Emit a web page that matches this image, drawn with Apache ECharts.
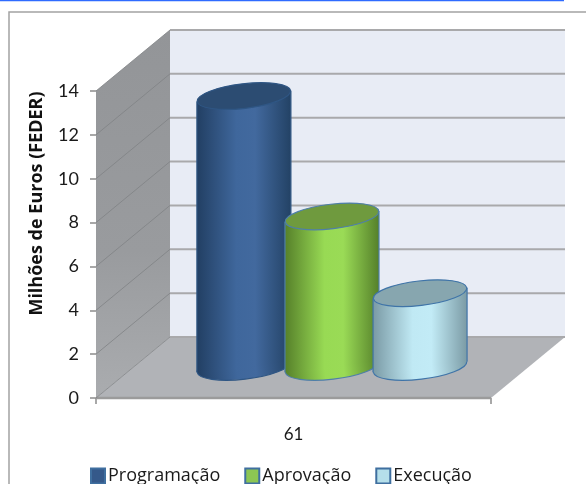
<!DOCTYPE html>
<html><head><meta charset="utf-8">
<style>html,body{margin:0;padding:0;background:#fff}#c{width:586px;height:484px}</style>
<script src="https://cdn.jsdelivr.net/npm/echarts@6/dist/echarts.min.js"></script>
</head><body><div id="c"></div>
<script>
const categories = ['61'];
const programacao = [12.35];
const aprovacao = [6.86];
const execucao = [3.36];
const yTicks = [0, 2, 4, 6, 8, 10, 12, 14];
const seriesNames = ['Programação', 'Aprovação', 'Execução'];

const FONT = 'Lato';
const FONT_WIDE = 'Open Sans';
const DX = 74, DY = -61;
const looks = [
  {side:['#223f63','#3f679c','#42699e','#234265'], top:'#2c4c72', edge:'#2f5684', key:'#35598a'},
  {side:['#56802a','#98da54','#9adb56','#55802a'], top:'#6f9a3e', edge:'#4f7fa8', key:'#8cc653'},
  {side:['#7a9aa5','#c0e9f4','#c2ebf6','#7b9ba5'], top:'#87a6af', edge:'#3f74a8', key:'#b5dfea'}
];
const grad = c => ({type:'linear',x:0,y:0,x2:1,y2:0,colorStops:[
  {offset:0,color:c[0]},{offset:0.42,color:c[1]},{offset:0.62,color:c[2]},{offset:1,color:c[3]}]});

function cylinder(i){
  return function(params, api){
    const p = api.coord([api.value(0), api.value(1)]);
    const o = api.coord([api.value(0), 0]);
    const band = api.size([1,0])[0];
    const cx = p[0] + (i-1)*band*0.223 + DX*0.52;
    const rx = band*0.119, ry = 12.3, tilt = 0.115;
    const topY = p[1] + DY*0.51, baseY = o[1] + DY*0.51;
    const s = rx*Math.sin(tilt);
    const look = looks[i];
    const edge = {stroke:look.edge, lineWidth:1.2};
    return {type:'group', silent:true, children:[
      {type:'ellipse', originX:cx, originY:baseY, rotation:tilt,
       shape:{cx:cx, cy:baseY, rx:rx, ry:ry},
       style:Object.assign({fill:grad(look.side)},edge)},
      {type:'polygon', shape:{points:[[cx-rx,topY+s],[cx+rx,topY-s],[cx+rx,baseY-s],[cx-rx,baseY+s]]},
       style:{fill:grad(look.side)}},
      {type:'line', shape:{x1:cx-rx,y1:topY+s,x2:cx-rx,y2:baseY+s}, style:edge},
      {type:'line', shape:{x1:cx+rx,y1:topY-s,x2:cx+rx,y2:baseY-s}, style:edge},
      {type:'ellipse', originX:cx, originY:topY, rotation:tilt,
       shape:{cx:cx, cy:topY, rx:rx, ry:ry},
       style:Object.assign({fill:look.top},edge)}
    ]};
  };
}

function frame(params, api){
  const x0 = api.coord([0,0]), band = api.size([1,0])[0];
  const L = x0[0]-band/2, R = x0[0]+band/2;
  const B = api.coord([0,yTicks[0]])[1], T = api.coord([0,yTicks[yTicks.length-1]])[1];
  const kids = [
    {type:'polygon', shape:{points:[[L+DX,T+DY],[R+DX,T+DY],[R+DX,B+DY],[L+DX,B+DY]]}, style:{fill:'#e8ecf5'}},
    {type:'polygon', shape:{points:[[L,T],[L+DX,T+DY],[L+DX,B+DY],[L,B]]},
     style:{fill:{type:'linear',x:0,y:0,x2:0,y2:1,colorStops:[{offset:0,color:'#939598'},{offset:0.6,color:'#999b9e'},{offset:1,color:'#aaacaf'}]}}},
    {type:'polygon', shape:{points:[[L,B],[L+DX,B+DY],[R+DX,B+DY],[R,B]]}, style:{fill:'#b1b3b7'}},
    {type:'line', shape:{x1:L,y1:B,x2:R,y2:B}, style:{stroke:'#9b9b9b',lineWidth:2.5}}
  ];
  yTicks.forEach(t=>{
    const y = api.coord([0,t])[1];
    kids.push({type:'line', shape:{x1:L,y1:y,x2:L+DX,y2:y+DY}, style:{stroke:'#808285',lineWidth:1,opacity:0.8}});
    kids.push({type:'line', shape:{x1:L+DX,y1:y+DY,x2:R+DX,y2:y+DY}, style:{stroke:'#a9a9ab',lineWidth:2}});
  });
  return {type:'group', silent:true, children:kids};
}

const values = [programacao, aprovacao, execucao];
const chart = echarts.init(document.getElementById('c'), null, {renderer:'canvas'});
chart.setOption({
  animation:false,
  backgroundColor:'#fff',
  grid:{left:96, top:91, width:395, height:307, containLabel:false},
  xAxis:{type:'category', data:categories, boundaryGap:true,
    axisLine:{show:false},
    axisTick:{show:true, length:6, lineStyle:{color:'#8c8c8c',width:1.5}},
    axisLabel:{color:'#1a1a1a', fontFamily:FONT, fontSize:17, margin:28}},
  yAxis:{type:'value', min:0, max:14, interval:2,
    name:'Milhões de Euros (FEDER)', nameLocation:'middle', nameGap:50,
    nameTextStyle:{color:'#111', fontFamily:FONT_WIDE, fontWeight:'bold', fontSize:18, padding:[0,0,0,82]},
    axisLine:{show:true, lineStyle:{color:'#8c8c8c',width:1}},
    axisTick:{show:true, length:6, lineStyle:{color:'#8c8c8c',width:1.5}},
    axisLabel:{color:'#1a1a1a', fontFamily:FONT, fontSize:18, margin:17, padding:[4,0,0,0]},
    splitLine:{show:false}},
  legend:{data:seriesNames, top:462, left:85, itemWidth:14, itemHeight:15, itemGap:24,
    icon:'rect', textStyle:{color:'#1a1a1a', fontFamily:FONT_WIDE, fontSize:18, padding:[0,0,0,-2]}},
  graphic:[
    {type:'line', z:-1, shape:{x1:0,y1:0.5,x2:564,y2:0.5}, style:{stroke:'#2f6bff',lineWidth:1.5}},
    {type:'polyline', z:-1, shape:{points:[[9,484],[9,12],[586,12]]}, style:{stroke:'#a3a3a3',fill:null,lineWidth:1.5}}
  ],
  series:[
    {type:'custom', name:'frame', z:1, clip:false, silent:true, data:[[categories[0],0]], renderItem:frame, encode:{x:0,y:1}},
  ].concat(seriesNames.map((n,i)=>({
    type:'custom', name:n, z:2+i, clip:false,
    itemStyle:{color:looks[i].key, borderColor:'#3f6f9f', borderWidth:1},
    data:values[i].map((v,k)=>[categories[k],v]),
    encode:{x:0,y:1}, renderItem:cylinder(i)
  })))
});
</script></body></html>
